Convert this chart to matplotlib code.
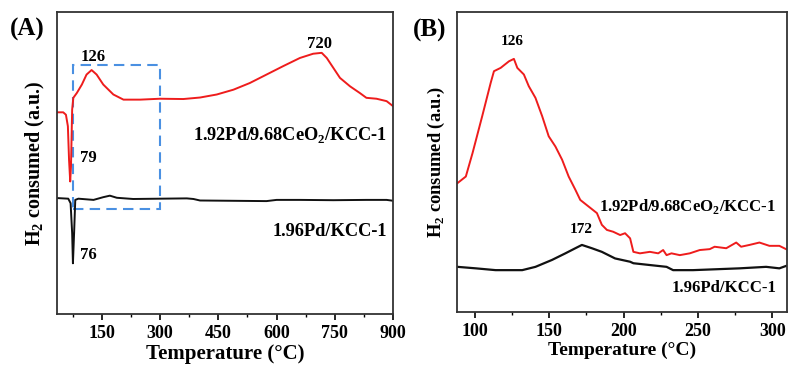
import matplotlib.pyplot as plt
from matplotlib.ticker import MultipleLocator
from matplotlib.patches import Rectangle

plt.rcParams['font.family'] = ['Liberation Serif', 'DejaVu Serif']
plt.rcParams['font.weight'] = 'bold'
plt.rcParams['mathtext.fontset'] = 'custom'
plt.rcParams['mathtext.rm'] = 'Liberation Serif:bold'
plt.rcParams['mathtext.bf'] = 'Liberation Serif:bold'

# panel A, full TPR range (signal in a.u.)
a_red_t = [36, 51, 58, 63, 66, 69, 71, 74, 77, 86, 99, 111, 124, 137, 154, 180, 206, 249, 300,
           360, 403, 446, 489, 531, 574, 617, 660, 694, 716, 729, 746, 763, 789, 814, 831, 857, 883, 900]
a_red_y = [66.8, 66.8, 66.0, 62.2, 51.1, 43.9, 48.9, 67.7, 71.6, 73.2, 76.0, 79.3, 80.8, 79.3, 76.0,
           72.7, 71.0, 71.0, 71.3, 71.2, 71.7, 72.7, 74.3, 76.5, 79.3, 82.1, 84.8, 86.2, 86.5, 84.8,
           81.5, 78.2, 75.4, 73.2, 71.6, 71.3, 70.5, 68.8]
a_blk_t = [36, 64, 70, 74, 76, 79, 82, 90, 129, 154, 171, 189, 231, 300, 369, 386, 403, 489,
           574, 600, 660, 746, 831, 883, 900]
a_blk_y = [38.4, 38.2, 36.7, 26.8, 16.8, 26.8, 37.8, 38.2, 37.8, 38.7, 39.2, 38.5, 38.1, 38.2,
           38.3, 38.1, 37.6, 37.5, 37.4, 37.8, 37.8, 37.7, 37.8, 37.8, 37.5]

# panel B, zoom on 90-310 C
b_red_t = [88.4, 94, 98.5, 105, 110.7, 112.9, 117.4, 123, 126.3, 128.6, 133, 136.3, 140.8, 145.3,
           149.7, 154.2, 158.7, 163.1, 167.6, 170.9, 176.5, 182.1, 185.4, 188.8, 193, 197.7, 201,
           204.4, 206.6, 211, 217.7, 223.3, 226.6, 228.9, 232.2, 237.8, 244.5, 251.2, 257.9,
           261.2, 269, 275.7, 279, 284.6, 291.3, 298, 304.7, 309.2]
b_red_y = [43.0, 45.2, 53.0, 65.3, 76.4, 80.3, 81.4, 83.6, 84.4, 81.4, 79.2, 75.3, 71.4, 65.3,
           58.6, 55.2, 50.8, 45.2, 40.8, 37.4, 35.2, 33.0, 29.1, 27.4, 26.8, 25.7, 26.3,
           24.6, 20.1, 19.6, 20.1, 19.6, 20.7, 19.0, 19.6, 19.0, 19.6, 20.7, 21.0,
           21.8, 21.3, 23.2, 21.8, 22.4, 23.2, 22.1, 22.1, 21.0]
b_blk_t = [88.4, 100.7, 114, 131.9, 140.8, 151.9, 160.9, 167.6, 172, 178.7, 185.4, 194.3, 204.4,
           206.6, 217.7, 228.9, 233.3, 246.7, 262.3, 277.9, 295.8, 304.7, 309.2]
b_blk_y = [15.1, 14.6, 14.0, 14.0, 15.1, 17.4, 19.6, 21.3, 22.4, 21.3, 20.1, 17.9, 16.8,
           16.3, 15.7, 15.1, 14.0, 14.0, 14.3, 14.6, 15.1, 14.6, 15.4]

red_label = '1.92Pd/9.68CeO$_2$/KCC-1'
blk_label = '1.96Pd/KCC-1'

fig = plt.figure(figsize=(7.96, 3.77), dpi=100)
ax_a = fig.add_axes([0.0716, 0.167, 0.4224, 0.801])
ax_b = fig.add_axes([0.574, 0.172, 0.415, 0.796])

for ax, xl, yl in ((ax_a, 15, 14.5), (ax_b, 14, 13.3)):
    ax.set_yticks([])
    ax.tick_params(axis='x', direction='out', length=4, width=1.2, labelsize=13, pad=4)
    ax.tick_params(axis='x', which='minor', direction='out', length=2.5, width=1)
    for s in ax.spines.values():
        s.set_linewidth(1.3)
        s.set_color('#333333')
    ax.set_xlabel('Temperature (°C)', fontsize=xl, fontweight='bold', labelpad=1)
    ax.set_ylabel('H$_2$ consumed (a.u.)', fontsize=yl, fontweight='bold', labelpad=7)
    ax.set_ylim(0, 100)

ax_a.plot(a_red_t, a_red_y, color='#ee1c1c', lw=1.4)
ax_a.plot(a_blk_t, a_blk_y, color='#111111', lw=1.4)
ax_a.set_xlim(35, 900)
ax_a.xaxis.set_major_locator(MultipleLocator(150))
ax_a.xaxis.set_minor_locator(MultipleLocator(75))
ax_a.set_xticks([150, 300, 450, 600, 750, 900])
ax_a.add_patch(Rectangle((77, 34.7), 300 - 77, 82.6 - 34.7, fill=False, ec='#4a90e2',
                         ls=(0, (5, 3)), lw=1.5))
ax_a.text(129, 85.2, '126', ha='center', va='center', fontsize=12)
ax_a.text(711, 89.5, '720', ha='center', va='center', fontsize=12)
ax_a.text(94, 51.7, '79', ha='left', va='center', fontsize=12)
ax_a.text(94, 19.6, '76', ha='left', va='center', fontsize=12)
ax_a.text(883, 59.4, red_label, ha='right', va='center', fontsize=13.2)
ax_a.text(883, 27.3, blk_label, ha='right', va='center', fontsize=13.2)
fig.text(0.034, 0.923, '(A)', fontsize=18, fontweight='bold', ha='center', va='center')

ax_b.plot(b_red_t, b_red_y, color='#ee1c1c', lw=1.4)
ax_b.plot(b_blk_t, b_blk_y, color='#111111', lw=1.6)
ax_b.set_xlim(88, 310)
ax_b.xaxis.set_major_locator(MultipleLocator(50))
ax_b.xaxis.set_minor_locator(MultipleLocator(25))
ax_b.text(125, 90.3, '126', ha='center', va='center', fontsize=11)
ax_b.text(171.5, 27.6, '172', ha='center', va='center', fontsize=11)
ax_b.text(302.5, 35.2, red_label, ha='right', va='center', fontsize=12.1)
ax_b.text(302.5, 8.2, blk_label, ha='right', va='center', fontsize=12.1)
fig.text(0.540, 0.918, '(B)', fontsize=18, fontweight='bold', ha='center', va='center')

fig.savefig('out.png', dpi=100)
